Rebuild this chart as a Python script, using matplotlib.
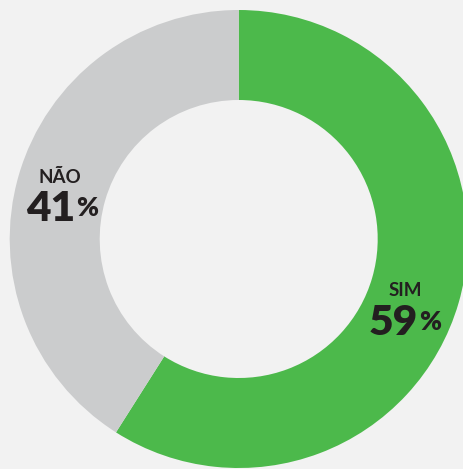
import matplotlib
matplotlib.use("Agg")
import matplotlib.pyplot as plt

labels = ["SIM", "NÃO"]
values = [59, 41]
colors = ["#4cb94b", "#cbcccd"]
bg = "#f2f2f2"
text_color = "#231f20"

W, H = 464, 469
fig = plt.figure(figsize=(W / 100, H / 100), dpi=100, facecolor=bg)
ax = fig.add_axes([0, 0, 1, 1])
ax.set_facecolor(bg)

cx, cy = 238.7, H - 239
R, r = 229, 139
ax.pie(values, colors=colors, startangle=90, counterclock=False,
       center=(cx, cy), radius=R, frame=True,
       wedgeprops=dict(width=R - r, linewidth=0))
ax.set_xlim(0, W)
ax.set_ylim(0, H)
ax.set_aspect("equal")
ax.axis("off")

# label positions (pixel coords, y from top)
pos = {"SIM": (405, 290, 395, 323), "NÃO": (60, 177, 52, 209)}
for lab, val in zip(labels, values):
    lx, ly, nx, ny = pos[lab]
    ax.text(lx, H - ly, lab, ha="center", va="center", fontsize=13.5,
            family="Lato", weight="bold", color=text_color)
    ax.text(nx + 23, H - ny, str(val), ha="right", va="center", fontsize=30.5,
            family="Lato", weight="heavy", color=text_color)
    ax.text(nx + 24, H - ny + 1, "%", ha="left", va="center", fontsize=19,
            family="Lato", weight="heavy", color=text_color)

fig.savefig("out.png", dpi=100, facecolor=bg)
